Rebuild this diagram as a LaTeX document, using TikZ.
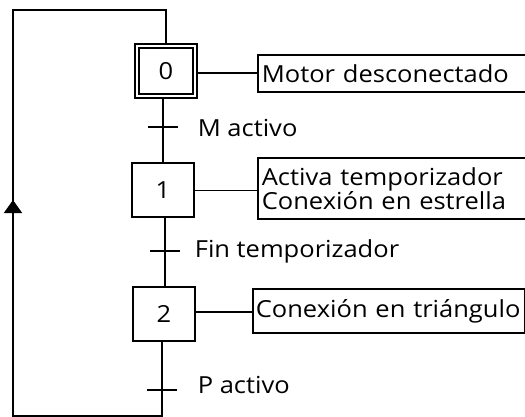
\documentclass[tikz,border=0pt]{standalone}
\usepackage{fontspec}
\setmainfont{Open Sans}[FakeStretch=1.085]
\usetikzlibrary{arrows.meta,calc}
\begin{document}
\begin{tikzpicture}[x=1pt,y=-1pt,line width=1.7pt,
  every node/.style={font=\fontsize{23.5}{24}\selectfont},
  stepbox/.style={draw,minimum width=62pt,minimum height=55pt,inner sep=0pt,anchor=center},
  actbox/.style={draw,anchor=north west,inner xsep=4pt,inner ysep=0pt,align=left,text width=300pt},
  tlabel/.style={anchor=west,inner sep=0pt},
  trbar/.style={line width=1.7pt}]
\useasboundingbox (0,0) rectangle (525,417);
\clip (0,0) rectangle (525,417);
% steps
\node[stepbox,double,double distance=2.6pt,minimum width=58pt,minimum height=50pt] (s0) at (166,71) {0};
\node[stepbox,minimum height=54pt] (s1) at (163,190) {1};
\node[stepbox,minimum height=54pt] (s2) at (164,314) {2};
% transitions
\coordinate (t1) at (163,127);
\coordinate (t2) at (165,251);
\coordinate (t3) at (162,390);
\draw[trbar] ($(t1)+(-15,0)$) -- ($(t1)+(15,0)$);
\draw[trbar] ($(t2)+(-15,0)$) -- ($(t2)+(15,0)$);
\draw[trbar] ($(t3)+(-15,0)$) -- ($(t3)+(15,0)$);
\node[tlabel] (l1) at (197,128) {M activo};
\node[tlabel] (l2) at (194,251) {Fin temporizador};
\node[tlabel] (l3) at (197,385) {P activo};
% links
\draw (s0.south -| t1) -- (s1.north -| t1);
\draw (s1.south -| t2) -- (s2.north -| t2);
\coordinate (bl) at (13,416);
\coordinate (tl) at (13,10);
\coordinate (tr) at (166,10);
\draw (s2.south -| t3) -- (bl -| t3) -- (bl) -- (tl) -- (tr) -- (s0.north);
\coordinate (arr) at (13,200);
\coordinate (arrbase) at (13,230);
\draw[-{Triangle[width=18pt,length=13pt]}] (arrbase) -- (arr);
% actions
\node[actbox,minimum height=37pt] (a0) at (257,54) {Motor desconectado};
\node[actbox,minimum height=61pt] (a1) at (257,157) {Activa temporizador\\Conexión en estrella};
\node[actbox,minimum height=44pt,text width=266pt,inner xsep=3pt] (a2) at (252,288) {\mbox{Conexión en triángulo}};
\coordinate (c0) at (0,73);
\coordinate (c1) at (0,190.5);
\coordinate (c2) at (0,312);
\draw (s0.east |- c0) -- (a0.west |- c0);
\draw (s1.east |- c1) -- (a1.west |- c1);
\draw (s2.east |- c2) -- (a2.west |- c2);
\end{tikzpicture}
\end{document}
